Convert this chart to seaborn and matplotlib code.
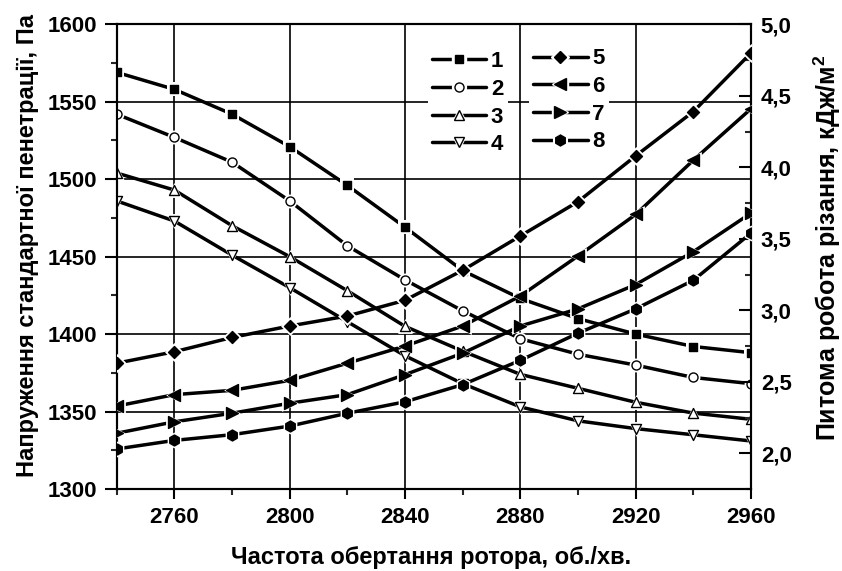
import matplotlib
matplotlib.use('Agg')
import matplotlib.pyplot as plt
from matplotlib.lines import Line2D
from matplotlib.legend_handler import HandlerTuple
from matplotlib.ticker import MultipleLocator, FuncFormatter
import seaborn as sns

# частота обертання ротора, об./хв.
rpm = [2740, 2760, 2780, 2800, 2820, 2840, 2860, 2880, 2900, 2920, 2940, 2960]

# напруження стандартної пенетрації, Па (ліва вісь)
s1 = [1569, 1558, 1542, 1521, 1496, 1469, 1441, 1423, 1410, 1400, 1392, 1388]
s2 = [1542, 1527, 1511, 1486, 1457, 1435, 1415, 1397, 1387, 1380, 1372, 1368]
s3 = [1504, 1493, 1470, 1450, 1428, 1405, 1389, 1374, 1365, 1356, 1349, 1345]
s4 = [1486, 1473, 1451, 1430, 1408, 1386, 1368, 1353, 1344, 1339, 1335, 1331]

# питома робота різання, кДж/м2 (права вісь)
w5 = [2.63, 2.71, 2.81, 2.89, 2.96, 3.07, 3.28, 3.52, 3.76, 4.08, 4.39, 4.80]
w6 = [2.33, 2.41, 2.44, 2.51, 2.63, 2.75, 2.89, 3.10, 3.38, 3.67, 4.05, 4.41]
w7 = [2.14, 2.22, 2.28, 2.35, 2.41, 2.55, 2.70, 2.89, 3.01, 3.18, 3.41, 3.68]
w8 = [2.03, 2.09, 2.13, 2.19, 2.28, 2.36, 2.48, 2.65, 2.84, 3.01, 3.21, 3.54]

labels = ['1', '2', '3', '4', '5', '6', '7', '8']
x_ticks = [2760, 2800, 2840, 2880, 2920, 2960]
left_ticks = [1300, 1350, 1400, 1450, 1500, 1550, 1600]
right_ticks = [2.0, 2.5, 3.0, 3.5, 4.0, 4.5, 5.0]

# маркери в стилі Origin
markers = ['s', 'o', '^', 'v', 'D', '<', '>', 'h']
faces = ['black', 'white', 'white', 'white', 'black', 'black', 'black', 'black']
msizes = [6.3, 6.5, 7.2, 7.2, 6.1, 8.6, 8.6, 7.9]

sns.set_theme(style='ticks')
plt.rcParams['font.family'] = ['Liberation Sans', 'DejaVu Sans']
plt.rcParams['font.weight'] = 'bold'
plt.rcParams['axes.labelweight'] = 'bold'
plt.rcParams['text.color'] = 'black'
plt.rcParams['axes.labelcolor'] = 'black'
plt.rcParams['mathtext.fontset'] = 'custom'
plt.rcParams['mathtext.rm'] = 'Liberation Sans:bold'
plt.rcParams['mathtext.bf'] = 'Liberation Sans:bold'

fig, ax = plt.subplots(figsize=(8.42, 5.71), dpi=100)
fig.subplots_adjust(left=0.1386, right=0.892, top=0.9574, bottom=0.1436)
ax2 = ax.twinx()


def draw_series(axis, y, i):
    # лінія, білий "ореол" (розрив лінії біля маркера), маркер
    sns.lineplot(x=rpm, y=y, ax=axis, color='black', lw=2.5, zorder=2, legend=False)
    sns.scatterplot(x=rpm, y=y, ax=axis, marker=markers[i], s=(msizes[i] + 3.5) ** 2,
                    color='white', linewidth=0, zorder=3, legend=False)
    sns.scatterplot(x=rpm, y=y, ax=axis, marker=markers[i], s=msizes[i] ** 2,
                    color=faces[i], edgecolor='black', linewidth=1.0, zorder=4, legend=False)


for i, y in enumerate([s1, s2, s3, s4]):
    draw_series(ax, y, i)
for i, y in enumerate([w5, w6, w7, w8]):
    draw_series(ax2, y, i + 4)

# осі
ax.set_xlim(2740, 2960)
ax.set_ylim(1300, 1600)
ax2.set_ylim(1.75, 5.0)

ax.set_xticks(x_ticks)
ax.set_xticklabels([str(t) for t in x_ticks])
ax.set_yticks(left_ticks)
ax.xaxis.set_minor_locator(MultipleLocator(20))
ax.yaxis.set_minor_locator(MultipleLocator(25))
ax2.set_yticks(right_ticks)
ax2.yaxis.set_minor_locator(MultipleLocator(0.25))
ax2.yaxis.set_major_formatter(FuncFormatter(lambda v, p: f'{v:.1f}'.replace('.', ',')))

ax.grid(True, which='major', color='black', lw=1.2)
ax2.grid(False)

ax.tick_params(axis='x', which='major', direction='out', length=7, width=1.5, labelsize=16, pad=6, colors='black')
ax.tick_params(axis='x', which='minor', direction='out', length=4, width=1.5)
ax.tick_params(axis='y', which='major', direction='out', length=9, width=1.5, labelsize=16, pad=5, colors='black')
ax.tick_params(axis='y', which='minor', direction='out', length=4, width=1.5)
ax2.tick_params(axis='y', which='major', direction='in', length=9, width=1.5, labelsize=16, pad=7, colors='black')
ax2.tick_params(axis='y', which='minor', direction='in', length=4.5, width=1.5)
for lab in ax.get_xticklabels() + ax.get_yticklabels() + ax2.get_yticklabels():
    lab.set_fontweight('bold')

for a in (ax, ax2):
    for sp in a.spines.values():
        sp.set_linewidth(1.5)
        sp.set_color('black')

ax.set_xlabel('Частота обертання ротора, об./хв.', fontsize=17, fontweight='bold', color='black')
ax.set_ylabel('Напруження стандартної пенетрації, Па', fontsize=17, fontweight='bold', color='black')
ax2.set_ylabel(r'Питома робота різання, кДж/м$^{\mathbf{2}}$', fontsize=18, fontweight='bold', color='black')
ax.xaxis.set_label_coords(0.496, -0.148)
ax.xaxis.label.set_va('center')
ax.yaxis.set_label_coords(-0.14, 0.525)
ax.yaxis.label.set_va('center')
ax2.yaxis.set_label_coords(1.12, 0.519)
ax2.yaxis.label.set_va('center')

# легенда: дві колонки
handles = []
for i in range(8):
    h_line = Line2D([], [], color='black', lw=2.5, marker=markers[i], ms=msizes[i] + 3.5,
                    mfc='white', mec='white')
    h_mark = Line2D([], [], ls='none', marker=markers[i], ms=msizes[i],
                    mfc=faces[i], mec='black', mew=1.0)
    handles.append((h_line, h_mark))

leg_kw = dict(frameon=True, facecolor='white', edgecolor='none', framealpha=1,
              handlelength=2.45, handletextpad=0.2, labelspacing=0.3,
              borderpad=0.2, borderaxespad=0, loc='upper left', labelcolor='black',
              handler_map={tuple: HandlerTuple(ndivide=1)}, prop={'weight': 'bold', 'size': 16})
leg1 = ax2.legend(handles[:4], labels[:4], bbox_to_anchor=(0.490, 0.9516), **leg_kw)
ax2.add_artist(leg1)
leg1.set_zorder(10)
leg2 = ax2.legend(handles[4:], labels[4:], bbox_to_anchor=(0.6495, 0.958), **leg_kw)
leg2.set_zorder(10)

fig.savefig('out.png', dpi=100)
